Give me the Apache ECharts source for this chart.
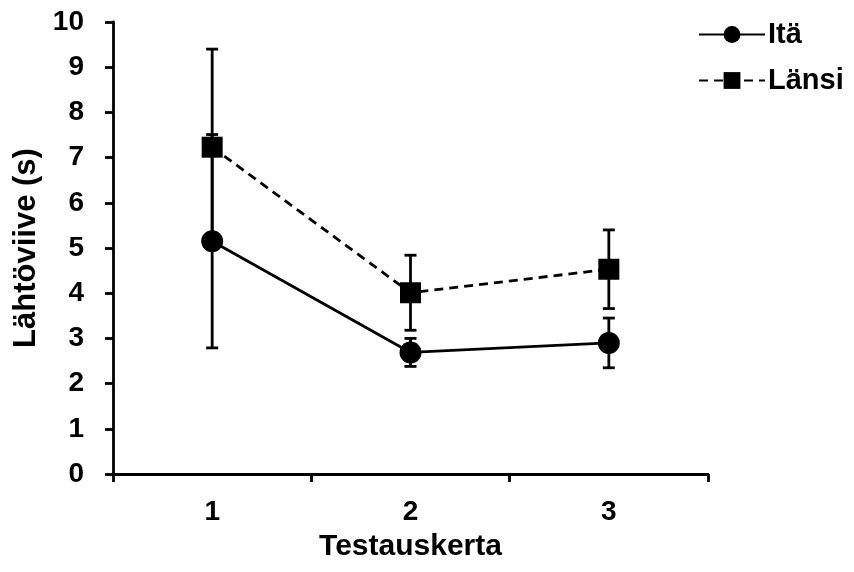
<!DOCTYPE html>
<html><head><meta charset="utf-8">
<script src="https://cdn.jsdelivr.net/npm/echarts@6/dist/echarts.min.js"></script>
<style>html,body{margin:0;padding:0;background:#fff}#c{width:854px;height:572px}</style>
</head><body><div id="c"></div>
<script>
const categories = ['1', '2', '3'];
const itaMean = [5.15, 2.69, 2.90];
const itaErr = [2.36, 0.31, 0.55];
const lansiMean = [7.23, 4.01, 4.53];
const lansiErr = [2.17, 0.83, 0.87];
const yTicks = [0,1,2,3,4,5,6,7,8,9,10];

const font = 'Liberation Sans, Arial, sans-serif';
function errData(mean, err){ return mean.map((m,i)=>[i, m-err[i], m+err[i]]); }
function errRender(params, api){
  const x = api.value(0);
  const lo = api.coord([x, api.value(1)]);
  const hi = api.coord([x, api.value(2)]);
  const w = 6;
  const st = {stroke:'#000', lineWidth:2.8};
  return {type:'group', children:[
    {type:'line', shape:{x1:lo[0],y1:lo[1],x2:hi[0],y2:hi[1]}, style:st},
    {type:'line', shape:{x1:lo[0]-w,y1:lo[1],x2:lo[0]+w,y2:lo[1]}, style:st},
    {type:'line', shape:{x1:hi[0]-w,y1:hi[1],x2:hi[0]+w,y2:hi[1]}, style:st}
  ]};
}
const chart = echarts.init(document.getElementById('c'), null, {renderer:'canvas'});
chart.setOption({
  animation:false,
  backgroundColor:'#fff',
  grid:{left:113, right:146, top:22, bottom:98, containLabel:false, outerBoundsMode:'none'},
  legend:{
    orient:'vertical', left:693, top:15, itemGap:17, itemWidth:66, itemHeight:21,
    textStyle:{fontFamily:font, fontWeight:'bold', fontSize:29, color:'#000', padding:[0,0,0,-2]},
    data:['Itä','Länsi']
  },
  xAxis:{
    type:'category', data:categories, boundaryGap:true,
    axisLine:{lineStyle:{color:'#000', width:2.8}},
    axisTick:{show:true, inside:false, length:8, lineStyle:{color:'#000', width:2.8}},
    axisLabel:{fontFamily:font, fontWeight:'bold', fontSize:28, color:'#000', margin:24},
    name:'Testauskerta', nameLocation:'middle', nameGap:58,
    nameTextStyle:{fontFamily:font, fontWeight:'bold', fontSize:30, color:'#000'}
  },
  yAxis:{
    type:'value', min:0, max:10, interval:1,
    splitLine:{show:false},
    axisLine:{show:true, lineStyle:{color:'#000', width:2.8}},
    axisTick:{show:true, inside:false, length:8, lineStyle:{color:'#000', width:2.8}},
    axisLabel:{fontFamily:font, fontWeight:'bold', fontSize:28, color:'#000', margin:29,
      formatter:v=>yTicks.includes(v)?String(v):''},
    name:'Lähtöviive (s)', nameLocation:'middle', nameGap:70, nameRotate:90,
    nameTextStyle:{fontFamily:font, fontWeight:'bold', fontSize:31, color:'#000'}
  },
  series:[
    {type:'custom', name:'ita_err', renderItem:errRender, data:errData(itaMean, itaErr), z:1, silent:true},
    {type:'custom', name:'lansi_err', renderItem:errRender, data:errData(lansiMean, lansiErr), z:1, silent:true},
    {type:'line', name:'Itä', data:itaMean, symbol:'circle', symbolSize:22,
      itemStyle:{color:'#000'}, lineStyle:{color:'#000', width:2.8, type:'solid'}, z:3},
    {type:'line', name:'Länsi', data:lansiMean, symbol:'rect', symbolSize:21,
      itemStyle:{color:'#000'}, lineStyle:{color:'#000', width:2.8, type:[9,6]}, z:3}
  ]
});
</script></body></html>
